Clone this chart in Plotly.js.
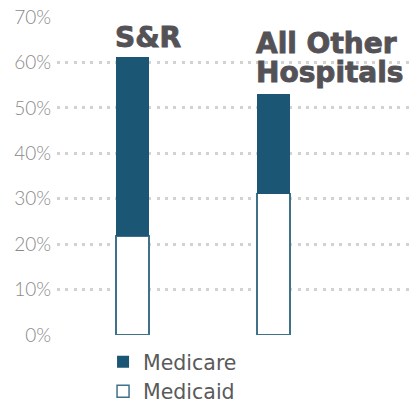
<!DOCTYPE html>
<html>
<head>
<meta charset="utf-8">
<script src="https://cdn.plot.ly/plotly-3.0.1.min.js"></script>
<style>html,body{margin:0;padding:0;background:#fff}#chart{width:414px;height:406px}
.annotation-text{stroke:#545256;stroke-width:0.9px;}</style>
</head>
<body>
<div id="chart"></div>
<script>
var categories = ["S&R", "All Other Hospitals"];
var labelLines = [["S&R"], ["All Other", "Hospitals"]];
var medicaid = [21.8, 31.1];
var medicare = [39.4, 22.0];
var tickVals = [0, 10, 20, 30, 40, 50, 60, 70];
var tickText = ["0%", "10%", "20%", "30%", "40%", "50%", "60%", "70%"];

var xIdx = categories.map(function(c, i){ return i; });

var traces = [
  {type: "bar", name: "Medicaid", x: xIdx, y: medicaid, width: 0.234,
   marker: {color: "#ffffff", line: {color: "#3f7189", width: 1.5}}},
  {type: "bar", name: "Medicare", x: xIdx, y: medicare, width: 0.234,
   marker: {color: "#1b5674", line: {width: 0}}}
];

var annotations = [];
labelLines.forEach(function(lines, i){
  lines.forEach(function(t, j){
    annotations.push({
      x: xIdx[i] - 0.117, xref: "x", xanchor: "left", xshift: -3,
      y: 70, yref: "y", yanchor: "top", yshift: -2 - j * 29 - (i === 0 ? 0 : 6),
      text: t, showarrow: false,
      font: {family: "'DejaVu Sans', sans-serif", size: 28, weight: 700, color: "#545256"}
    });
  });
});

var layout = {
  width: 414, height: 406,
  margin: {l: 57, r: 0, t: 17, b: 0, autoexpand: false},
  paper_bgcolor: "#fff", plot_bgcolor: "rgba(0,0,0,0)",
  barmode: "stack",
  showlegend: true,
  legend: {x: 0.129, xanchor: "left", y: 0.165, yanchor: "top", traceorder: "reversed",
           font: {family: "'DejaVu Sans', sans-serif", size: 20.5, color: "#5a5a5a"},
           bgcolor: "rgba(0,0,0,0)", tracegroupgap: 0},
  xaxis: {range: [-0.535, 1.996], showgrid: false, zeroline: false, showticklabels: false,
          showline: false, fixedrange: true},
  yaxis: {domain: [71/389, 1], range: [0, 70], tickvals: tickVals, ticktext: tickText, showgrid: true,
          gridcolor: "#d2d2d2", gridwidth: 3, griddash: "3px,5.3px", zeroline: false,
          showline: false, ticks: "", ticklabelstandoff: 5,
          tickfont: {family: "Lato, 'Open Sans', sans-serif", size: 19, color: "#8a8a8a", weight: 300},
          automargin: false},
  annotations: annotations
};

Plotly.newPlot("chart", traces, layout, {displayModeBar: false, staticPlot: true});
</script>
</body>
</html>
